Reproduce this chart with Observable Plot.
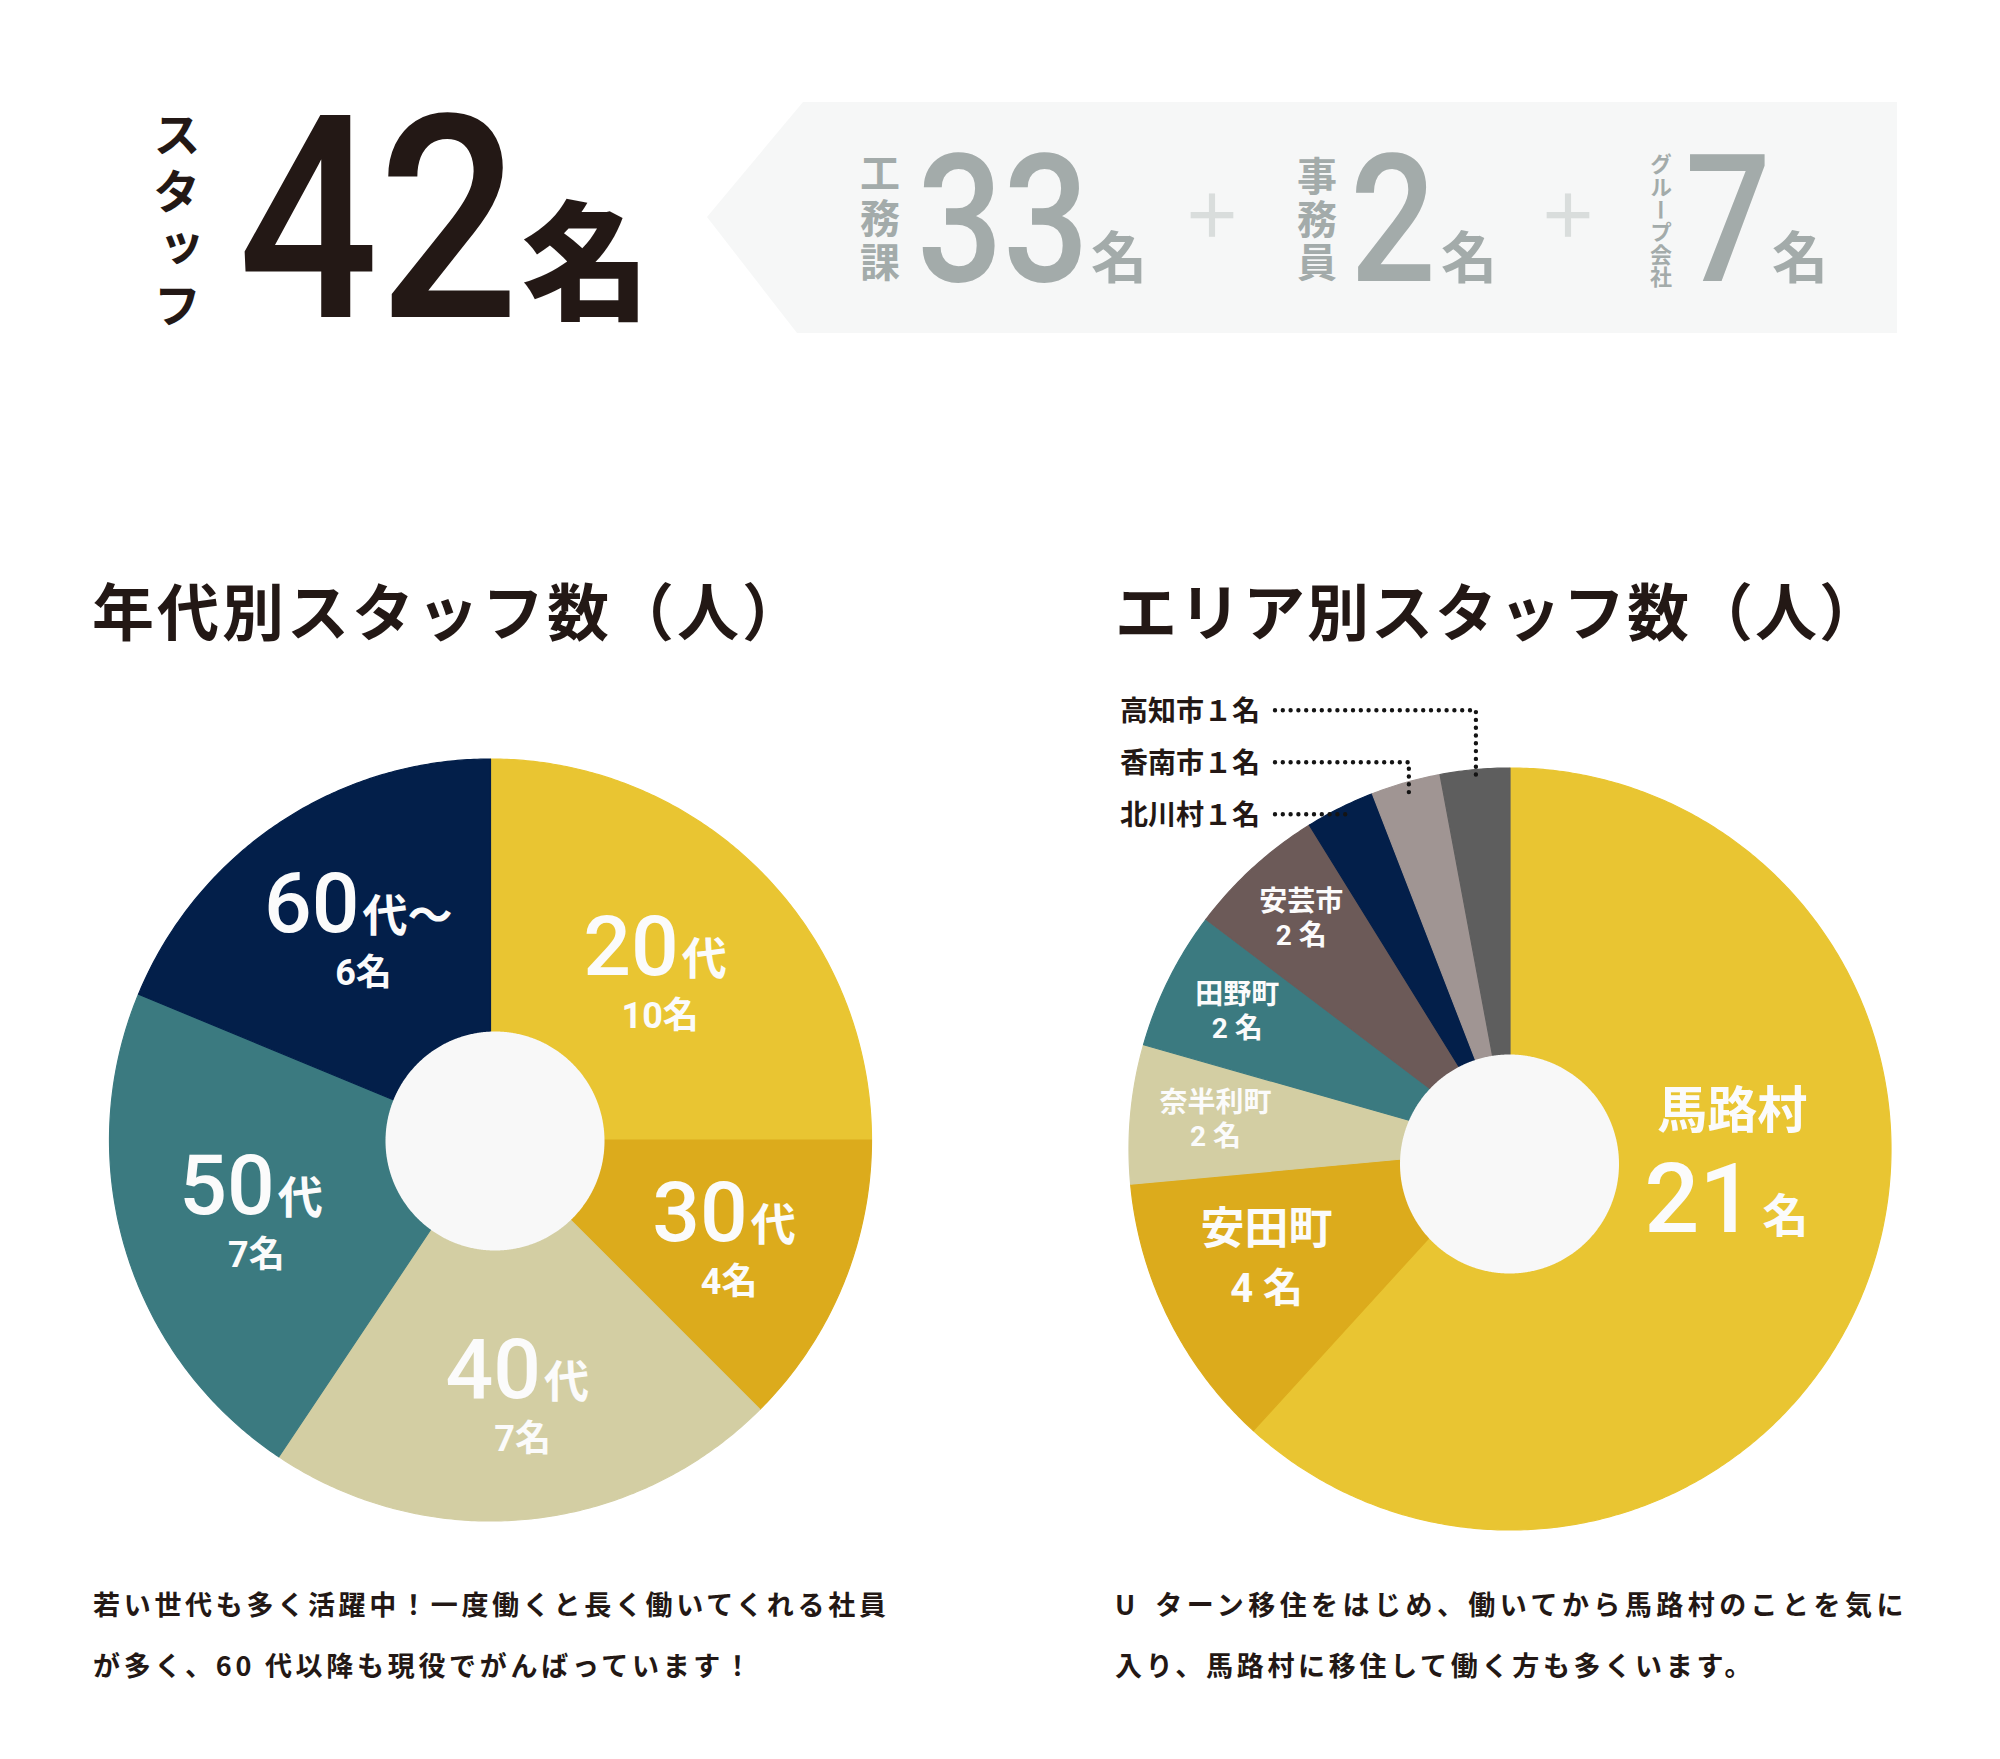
<!DOCTYPE html>
<html lang="ja">
<head>
<meta charset="utf-8">
<script src="https://cdn.jsdelivr.net/npm/d3@7"></script>
<script src="https://cdn.jsdelivr.net/npm/@observablehq/plot@0.6"></script>
<style>
  html, body { margin: 0; padding: 0; background: #ffffff; }
  body { width: 2000px; height: 1759px; position: relative; overflow: hidden; font-family: "Noto Sans CJK JP", sans-serif; }
  #overlay { position: absolute; left: 0; top: 0; }
  .chart { position: absolute; }
  .vlabel { position: absolute; writing-mode: vertical-rl; line-height: 1; font-family: "Noto Sans CJK JP", sans-serif; font-weight: 700; white-space: nowrap; margin: 0; padding: 0; }
</style>
</head>
<body>
<div id="overlay"></div>
<div id="vlabels"></div>
<div id="agePie" class="chart" style="left:50px; top:730px;"></div>
<div id="areaPie" class="chart" style="left:1090px; top:680px;"></div>
<script>
// ---------------- DATA ----------------
const staffHeading = "スタッフ";
const staffTotal = 42;
const staffUnit = "名";
const staffGroups = ["工務課", "事務員", "グループ会社"];
const staffCounts = [33, 2, 7];

const ageTitle = "年代別スタッフ数（人）";
const ageGroups = ["20代", "30代", "40代", "50代", "60代～"];
const ageCounts = [10, 4, 7, 7, 6];
// arc sizes as drawn in the reference picture (20代 fills exactly a quarter turn)
const ageArcShares = [8, 4, 7, 7, 6];
const ageColors = ["#e9c532", "#dcab1c", "#d3cea3", "#3b7a80", "#031f4a"];
const ageCaption = ["若い世代も多く活躍中！一度働くと長く働いてくれる社員", "が多く、60 代以降も現役でがんばっています！"];

const areaTitle = "エリア別スタッフ数（人）";
const areaNames = ["馬路村", "安田町", "奈半利町", "田野町", "安芸市", "北川村", "香南市", "高知市"];
const areaCounts = [21, 4, 2, 2, 2, 1, 1, 1];
const areaColors = ["#e9c532", "#dcab1c", "#d3cea3", "#3b7a80", "#6c5a58", "#031f4a", "#a09593", "#5e5e5e"];
const areaCaption = ["U ターン移住をはじめ、働いてから馬路村のことを気に", "入り、馬路村に移住して働く方も多くいます。"];

// ---------------- LAYOUT / STYLE ----------------
const INK = "#231815";
const GRAY = "#a3abaa";
const PLUS = "#d9dddc";
const LABEL = "#fbfbfb";
const HOLE_FILL = "#f8f8f8";
const R = 381;              // outer radius (px)
const HOLE_R = 109.5;       // hole radius (px)
const NUM_CONDENSE = 0.9;   // horizontal squeeze of the numeral font
const FONT_JP = "'Noto Sans CJK JP', sans-serif";
const FONT_MIX = "Roboto, 'Noto Sans CJK JP', sans-serif";

const ageLabelLayout = [
  {r: 0.59, turn: 4}, {r: 0.70, turn: 4}, {r: 0.73, turn: -1}, {r: 0.66, turn: -4.5}, {r: 0.60, turn: 0}
];
const ageLabelType = {numSize: 84, sufSize: 45, gap: 3, line1: -18, line2Size: 36, line2: 35};

const areaLabelLayout = [
  {style: "large", r: 0.584, turn: -19},
  {style: "medium", r: 0.703, turn: 1.8},
  {style: "small", r: 0.776, turn: 0},
  {style: "small", r: 0.80, turn: 0},
  {style: "small", r: 0.813, turn: 0},
  {style: "callout"}, {style: "callout"}, {style: "callout"}
];
const areaLabelTypes = {
  large: {nameSize: 50, line1: -29, numSize: 97, sufSize: 46, gap: 8, line2: 75},
  medium: {nameSize: 44, line1: -16.5, line2Size: 40, line2: 41.5},
  small: {nameSize: 28, line1: -9.5, line2Size: 28, line2: 24.5}
};
const callout = {rowGap: 52, rowLift: 4, textRight: -250, lineGap: 15, baseline: 11, size: 28, leaderR: 0.97};

// ---------------- HELPERS ----------------
function buildSectors(names, shares) {
  const total = d3.sum(shares);
  let acc = 0;
  return names.map((name, i) => {
    const a0 = acc / total * 2 * Math.PI;
    acc += shares[i];
    const a1 = acc / total * 2 * Math.PI;
    return {name, i, a0, a1, mid: (a0 + a1) / 2};
  });
}
function sectorOutline(s) {
  const n = Math.max(4, Math.ceil((s.a1 - s.a0) / (Math.PI / 360)));
  const pts = [{name: s.name, x: 0, y: 0}];
  for (let k = 0; k <= n; k++) {
    const a = s.a0 + (s.a1 - s.a0) * k / n;
    pts.push({name: s.name, x: Math.sin(a), y: Math.cos(a)});
  }
  pts.push({name: s.name, x: 0, y: 0});
  return pts;
}
function circleOutline(cx, cy, r) {
  const pts = [];
  for (let k = 0; k <= 720; k++) {
    const a = k / 720 * 2 * Math.PI;
    pts.push({x: cx + r * Math.sin(a), y: cy + r * Math.cos(a)});
  }
  return pts;
}
function polar(angle, r) { return [Math.sin(angle) * r, Math.cos(angle) * r]; }
const px = (v) => v / R;           // pixels -> data units
function fullWidth(n) { return String(n).replace(/[0-9]/g, (d) => String.fromCharCode(0xFF10 + +d)); }

function condense(node) {
  d3.select(node).selectAll('g[aria-label="cond-num"] text').each(function () {
    let t = this.getAttribute("transform");
    if (!t) {
      const x = this.getAttribute("x") || 0, y = this.getAttribute("y") || 0;
      this.removeAttribute("x"); this.removeAttribute("y");
      t = `translate(${x},${y})`;
    }
    this.setAttribute("transform", `${t} scale(${NUM_CONDENSE},1)`);
  });
}

function piePlot({W, H, cx, cy, names, colors, sectors, hole, texts, leaders}) {
  const marks = [
    Plot.line(sectors.flatMap(sectorOutline), {x: "x", y: "y", z: "name", fill: "name", stroke: "name", strokeWidth: 1.2, curve: "linear"}),
    Plot.line(circleOutline(px(hole[0]), -px(hole[1]), px(HOLE_R)), {x: "x", y: "y", fill: HOLE_FILL, stroke: "none"})
  ];
  if (leaders && leaders.length) {
    marks.push(Plot.line(leaders, {x: "x", y: "y", z: "name", stroke: "#141414", strokeWidth: 4.4, strokeDasharray: "0 7.8", strokeLinecap: "round"}));
  }
  marks.push(
    Plot.text(texts.cond, {x: "x", y: "y", text: "text", fontSize: (d) => d.size, textAnchor: "end", lineAnchor: "bottom", fill: LABEL, fontFamily: "Roboto, sans-serif", fontWeight: 500, ariaLabel: "cond-num"}),
    Plot.text(texts.sufStart, {x: "x", y: "y", text: "text", fontSize: (d) => d.size, textAnchor: "start", lineAnchor: "bottom", fill: LABEL, fontFamily: FONT_JP, fontWeight: 700}),
    Plot.text(texts.jpMid, {x: "x", y: "y", text: "text", fontSize: (d) => d.size, textAnchor: "middle", lineAnchor: "bottom", fill: LABEL, fontFamily: FONT_JP, fontWeight: 700}),
    Plot.text(texts.mixMid, {x: "x", y: "y", text: "text", fontSize: (d) => d.size, textAnchor: "middle", lineAnchor: "bottom", fill: LABEL, fontFamily: FONT_MIX, fontWeight: 700}),
    Plot.text(texts.calloutText, {x: "x", y: "y", text: "text", fontSize: (d) => d.size, textAnchor: "end", lineAnchor: "bottom", fill: INK, fontFamily: FONT_JP, fontWeight: 700})
  );
  const node = Plot.plot({
    width: W, height: H, margin: 0,
    x: {domain: [-px(cx), px(W - cx)], range: [0, W], axis: null},
    y: {domain: [-px(H - cy), px(cy)], range: [H, 0], axis: null},
    color: {domain: names, range: colors},
    style: {background: "transparent", overflow: "visible"},
    marks
  });
  condense(node);
  return node;
}
function emptyTexts() { return {cond: [], sufStart: [], jpMid: [], mixMid: [], calloutText: []}; }

// ---------------- AGE PIE ----------------
{
  const sectors = buildSectors(ageGroups, ageArcShares);
  const texts = emptyTexts();
  const T = ageLabelType;
  sectors.forEach((s, i) => {
    const L = ageLabelLayout[i];
    const [ax, ay] = polar(s.mid + L.turn * Math.PI / 180, L.r);
    const m = /^(\d+)(.*)$/.exec(s.name);
    const numW = m[1].length * 0.562 * T.numSize * NUM_CONDENSE;
    const sufW = [...m[2]].length * T.sufSize;
    const left = -(numW + T.gap + sufW) / 2;
    texts.cond.push({x: ax + px(left + numW), y: ay - px(T.line1), text: m[1], size: T.numSize});
    texts.sufStart.push({x: ax + px(left + numW + T.gap), y: ay - px(T.line1), text: m[2], size: T.sufSize});
    texts.mixMid.push({x: ax, y: ay - px(T.line2), text: `${ageCounts[i]}${staffUnit}`, size: T.line2Size});
  });
  document.getElementById("agePie").appendChild(piePlot({
    W: 880, H: 820, cx: 440, cy: 409.5,
    names: ageGroups, colors: ageColors, sectors,
    hole: [4.5, 1], texts
  }));
}

// ---------------- AREA PIE ----------------
{
  const sectors = buildSectors(areaNames, areaCounts);
  const texts = emptyTexts();
  const leaders = [];
  const calloutIdx = sectors.filter((s, i) => areaLabelLayout[i].style === "callout").map((s) => s.i);
  const baseEnd = polar(sectors[calloutIdx[0]].mid, callout.leaderR);
  sectors.forEach((s, i) => {
    const L = areaLabelLayout[i];
    if (L.style === "callout") {
      const k = calloutIdx.indexOf(i);
      const [ex, ey] = polar(s.mid, callout.leaderR);
      const rowY = baseEnd[1] + px(callout.rowLift + callout.rowGap * k);
      texts.calloutText.push({x: px(callout.textRight), y: rowY - px(callout.baseline), text: `${s.name}${fullWidth(areaCounts[i])}${staffUnit}`, size: callout.size});
      leaders.push({name: s.name, x: px(callout.textRight + callout.lineGap), y: rowY});
      leaders.push({name: s.name, x: ex, y: rowY});
      leaders.push({name: s.name, x: ex, y: ey});
      return;
    }
    const T = areaLabelTypes[L.style];
    const [ax, ay] = polar(s.mid + L.turn * Math.PI / 180, L.r);
    texts.jpMid.push({x: ax, y: ay - px(T.line1), text: s.name, size: T.nameSize});
    if (L.style === "large") {
      const num = String(areaCounts[i]);
      const numW = num.length * 0.562 * T.numSize * NUM_CONDENSE;
      const left = -(numW + T.gap + T.sufSize) / 2;
      texts.cond.push({x: ax + px(left + numW), y: ay - px(T.line2), text: num, size: T.numSize});
      texts.sufStart.push({x: ax + px(left + numW + T.gap), y: ay - px(T.line2), text: staffUnit, size: T.sufSize});
    } else {
      texts.mixMid.push({x: ax, y: ay - px(T.line2), text: `${areaCounts[i]} ${staffUnit}`, size: T.line2Size});
    }
  });
  document.getElementById("areaPie").appendChild(piePlot({
    W: 880, H: 870, cx: 419.5, cy: 468.5,
    names: areaNames, colors: areaColors, sectors,
    hole: [-0.5, 15], texts, leaders
  }));
}

// ---------------- HEADER, TITLES, CAPTIONS ----------------
{
  const svg = d3.create("svg").attr("width", 2000).attr("height", 1759).attr("viewBox", "0 0 2000 1759");
  // banner
  svg.append("path").attr("d", "M803,102H1897V333H797L707,217Z").attr("fill", "#f6f7f7");

  const vbox = d3.select("#vlabels");
  const vtext = (cx, top, str, size, ls, color) => vbox.append("div")
    .attr("class", "vlabel").text(str)
    .style("left", (cx - size / 2) + "px").style("top", top + "px")
    .style("font-size", size + "px").style("letter-spacing", ls + "px")
    .style("color", color);
  const num = (x, y, str, size, sx, fill) => svg.append("text")
    .attr("transform", `translate(${x},${y}) scale(${sx},1)`).text(str)
    .style("font-family", "Roboto, sans-serif").style("font-weight", 500)
    .style("font-size", size + "px").attr("fill", fill);
  const jp = (x, y, str, size, weight, fill, anchor = "start", ls = 0, ws = 0) => svg.append("text")
    .attr("x", x).attr("y", y).text(str).attr("text-anchor", anchor)
    .style("font-family", FONT_JP).style("font-weight", weight)
    .style("font-size", size + "px").style("letter-spacing", ls + "px")
    .style("word-spacing", ws + "px")
    .attr("fill", fill);

  // スタッフ 42名
  vtext(177, 110, staffHeading, 48, 9, INK);
  num(238, 317, String(staffTotal), 284, 0.87, INK);
  jp(522, 310, staffUnit, 128, 900, INK);

  // breakdown
  const vx = [880, 1317, 1661], vy = [153, 156, 153], vs = [40, 40, 22], vls = [4.5, 3, 0.6];
  const nx = [917, 1350, 1685], ux = [1091, 1441, 1772];
  staffGroups.forEach((g, i) => {
    vtext(vx[i], vy[i], g, vs[i], vls[i], GRAY);
    num(nx[i], 281, String(staffCounts[i]), 178, 0.85, GRAY);
    jp(ux[i], 278, staffUnit, 56, 700, GRAY);
  });
  [1212, 1568].forEach((x) => jp(x, 238, "＋", 60, 700, PLUS, "middle"));

  // titles
  jp(92, 636, ageTitle, 62, 700, INK, "start", 3);
  jp(1115, 636, areaTitle, 62, 700, INK, "start", 2);

  // captions
  ageCaption.forEach((line, i) => jp(93, 1615 + 61 * i, line, 27, 700, INK, "start", 3.7));
  areaCaption.forEach((line, i) => jp(1115, 1615 + 61 * i, line, 27, 700, INK, "start", i === 0 ? 4.45 : 3.7, i === 0 ? 5 : 0));

  document.getElementById("overlay").appendChild(svg.node());
}
</script>
</body>
</html>
